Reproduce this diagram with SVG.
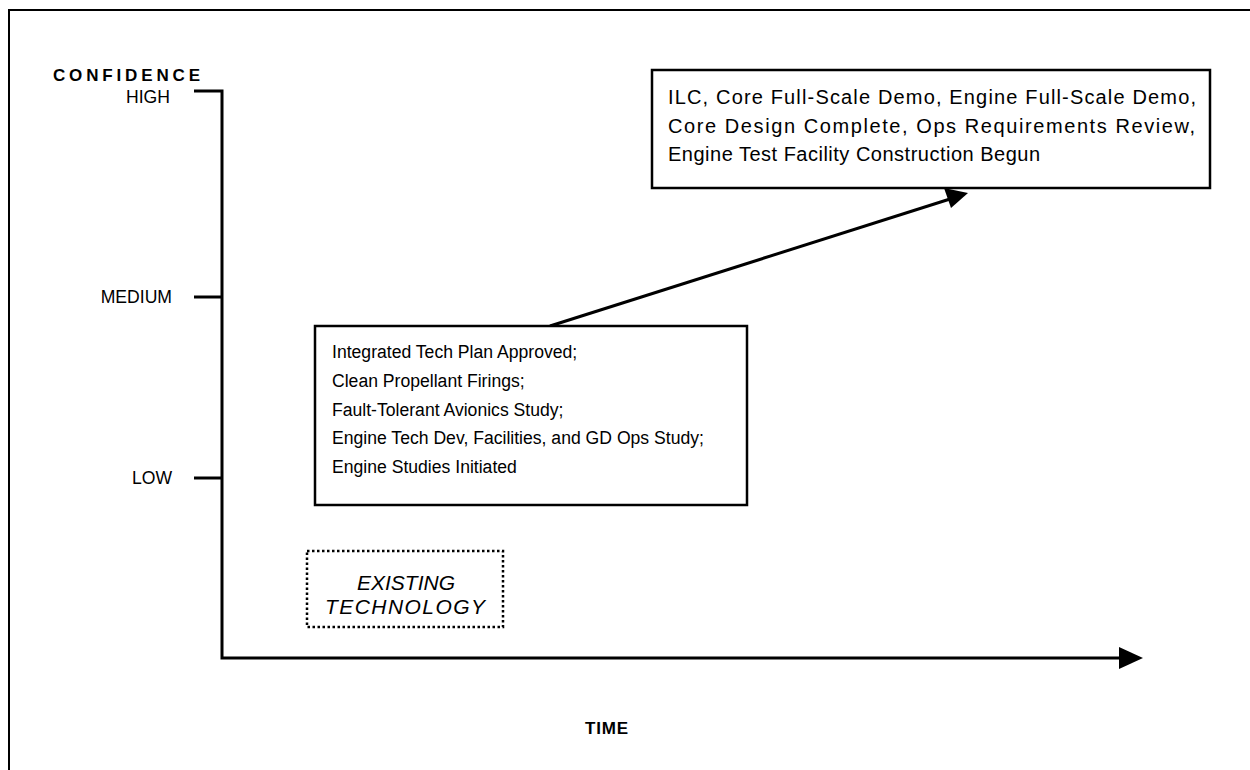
<svg xmlns="http://www.w3.org/2000/svg" width="1250" height="770" viewBox="0 0 1250 770">
  <style>
    .t { font-family: "Liberation Sans", Arial, sans-serif; font-size: 17.6px; fill: #000; }
    .t2 { font-family: "Liberation Sans", Arial, sans-serif; font-size: 20px; fill: #000; }
    .it { font-family: "Liberation Sans", Arial, sans-serif; font-size: 21px; font-style: italic; fill: #000; }
    .h { font-family: "Liberation Sans", Arial, sans-serif; font-size: 17px; font-weight: bold; fill: #000; }
    .ax { stroke: #000; stroke-width: 3; fill: none; }
    .box { fill: #fff; stroke: #000; stroke-width: 2.5; }
  </style>
  <rect width="1250" height="770" fill="#fff"/>
  <g id="frame">
    <line x1="8" y1="10" x2="1250" y2="10" stroke="#000" stroke-width="2"/>
    <line x1="9" y1="10" x2="9" y2="770" stroke="#000" stroke-width="2"/>
  </g>
  <g id="axes">
    <text class="h" x="53" y="81" textLength="147" lengthAdjust="spacing">CONFIDENCE</text>
    <text class="t" x="170" y="103" text-anchor="end">HIGH</text>
    <text class="t" x="172" y="303" text-anchor="end">MEDIUM</text>
    <text class="t" x="172" y="484" text-anchor="end">LOW</text>
    <polyline class="ax" points="194,91 222,91 222,658 1122,658"/>
    <line class="ax" x1="194" y1="297" x2="222" y2="297"/>
    <line class="ax" x1="194" y1="478" x2="222" y2="478"/>
    <polygon points="1119,647 1143,658 1119,669" fill="#000"/>
    <text class="h" x="585" y="734" textLength="43" lengthAdjust="spacing">TIME</text>
  </g>
  <g id="connectors">
    <line x1="550" y1="326" x2="950" y2="199" stroke="#000" stroke-width="3"/>
    <polygon points="968,193 944,188 951,208" fill="#000"/>
  </g>
  <g id="node-early">
    <rect class="box" x="315" y="326" width="432" height="179"/>
    <text class="t" x="332" y="358">Integrated Tech Plan Approved;</text>
    <text class="t" x="332" y="387">Clean Propellant Firings;</text>
    <text class="t" x="332" y="416">Fault-Tolerant Avionics Study;</text>
    <text class="t" x="332" y="444">Engine Tech Dev, Facilities, and GD Ops Study;</text>
    <text class="t" x="332" y="473">Engine Studies Initiated</text>
  </g>
  <g id="node-late">
    <rect class="box" x="652" y="70" width="558" height="118"/>
    <text class="t2" x="668" y="104" textLength="528" lengthAdjust="spacing">ILC, Core Full-Scale Demo, Engine Full-Scale Demo,</text>
    <text class="t2" x="668" y="133" textLength="527" lengthAdjust="spacing">Core Design Complete, Ops Requirements Review,</text>
    <text class="t2" x="668" y="161" textLength="372" lengthAdjust="spacing">Engine Test Facility Construction Begun</text>
  </g>
  <g id="node-existing">
    <rect x="307" y="551" width="196" height="76" fill="none" stroke="#000" stroke-width="2.5" stroke-dasharray="2.5,2.5"/>
    <text class="it" x="406" y="590" text-anchor="middle">EXISTING</text>
    <text class="it" x="325" y="614" textLength="160" lengthAdjust="spacing">TECHNOLOGY</text>
  </g>
</svg>
